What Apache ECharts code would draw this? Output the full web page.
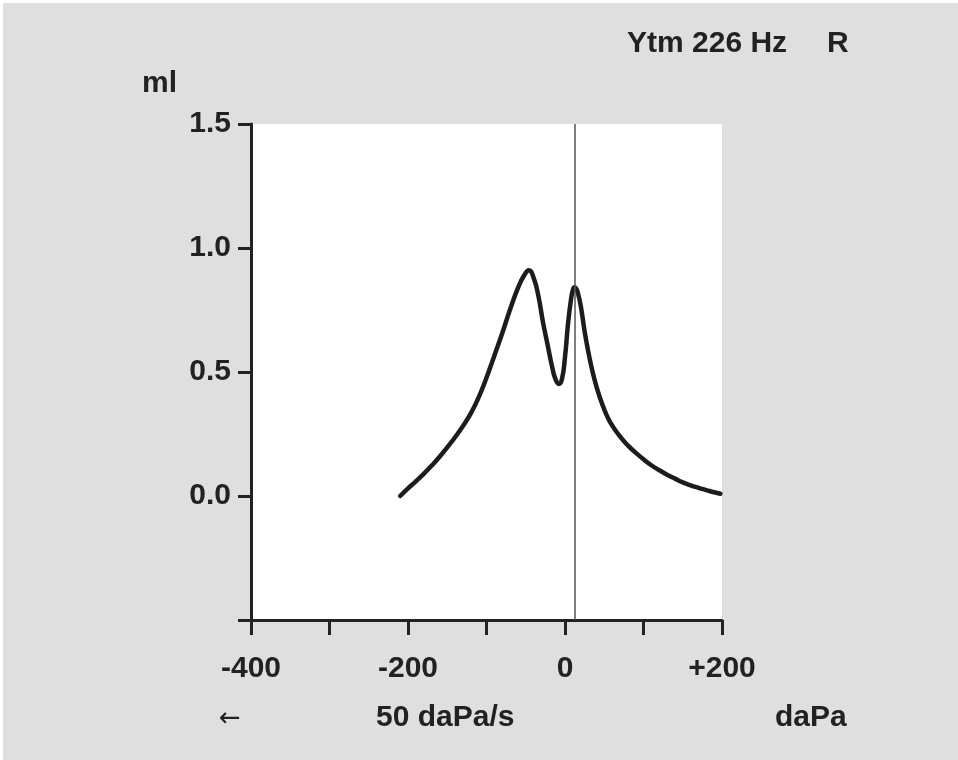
<!DOCTYPE html>
<html>
<head>
<meta charset="utf-8">
<script src="https://cdn.jsdelivr.net/npm/echarts@6/dist/echarts.min.js"></script>
<style>
html,body{margin:0;padding:0;background:#ffffff;}
#chart{position:absolute;left:3px;top:3px;width:955px;height:757px;}
</style>
</head>
<body>
<div id="chart"></div>
<script>
// Pressure (daPa) and compliance (ml)
var pressure = [-210,-200,-190,-180,-170,-160,-150,-140,-130,-120,-110,-100,-90,-80,-70,-60,-52,-46,-40,-34,-28,-22,-16,-12,-8,-4,0,4,8,10,12,14,16,20,25,30,35,40,45,50,55,60,70,80,90,100,110,120,130,140,150,160,170,180,190,198];
var compliance = [0.0,0.031,0.059,0.089,0.122,0.157,0.196,0.237,0.282,0.333,0.398,0.477,0.566,0.656,0.752,0.838,0.89,0.91,0.88,0.808,0.70,0.607,0.515,0.47,0.452,0.47,0.56,0.70,0.80,0.83,0.842,0.838,0.823,0.768,0.664,0.576,0.503,0.442,0.392,0.349,0.313,0.285,0.24,0.204,0.175,0.148,0.124,0.104,0.086,0.070,0.055,0.043,0.033,0.024,0.015,0.009];
var peakPressure = 12;
var xTickLabels = {'-400':'-400','-200':'-200','0':'0','200':'+200'};
var yTickLabels = {'0':'0.0','0.5':'0.5','1':'1.0','1.5':'1.5'};
var titleText = 'Ytm 226 Hz';
var earText = 'R';
var yUnit = 'ml';
var xUnit = 'daPa';
var speedText = '50 daPa/s';
var arrowText = '\u2190';

var chart = echarts.init(document.getElementById('chart'), null, {renderer:'canvas'});
var dark = '#222222';
var font = 'bold 30px "Liberation Sans", Arial, sans-serif';
var data = pressure.map(function(p,i){return [p, compliance[i]];});

chart.setOption({
  backgroundColor: '#dfdfdf',
  animation: false,
  grid: {left:248, top:121, width:471, height:496, show:true, backgroundColor:'#ffffff', borderWidth:0, containLabel:false},
  xAxis: {
    type:'value', min:-400, max:200, interval:100,
    axisLine:{show:true, onZero:false, lineStyle:{color:dark, width:3}},
    axisTick:{show:true, length:15, lineStyle:{color:dark, width:3}},
    splitLine:{show:false},
    axisLabel:{show:true, margin:34, color:dark, fontSize:30, fontWeight:'bold', fontFamily:'"Liberation Sans", Arial, sans-serif',
      formatter:function(v){ var k=String(v); return xTickLabels.hasOwnProperty(k)?xTickLabels[k]:''; }}
  },
  yAxis: {
    type:'value', min:-0.5, max:1.5, interval:0.5,
    axisLine:{show:true, onZero:false, lineStyle:{color:dark, width:3}},
    axisTick:{show:true, length:13, lineStyle:{color:dark, width:3}},
    splitLine:{show:false},
    axisLabel:{show:true, margin:20, color:dark, fontSize:30, fontWeight:'bold', fontFamily:'"Liberation Sans", Arial, sans-serif',
      formatter:function(v){ var k=String(Math.round(v*10)/10); return yTickLabels.hasOwnProperty(k)?yTickLabels[k]:''; }}
  },
  series: [{
    type:'line', data:data, smooth:0.5, showSymbol:false, symbol:'none',
    lineStyle:{color:'#1c1c1c', width:4.5, cap:'round', join:'round'},
    markLine:{silent:true, symbol:['none','none'], label:{show:false},
      lineStyle:{color:'#555555', width:1.5, type:'solid'},
      data:[{xAxis:peakPressure}]}
  }],
  graphic: [
    {type:'text', left:139, top:66, style:{text:yUnit, font:font, fill:dark}},
    {type:'text', left:624, top:26, style:{text:titleText, font:font, fill:dark}},
    {type:'text', left:824, top:26, style:{text:earText, font:font, fill:dark}},
    {type:'text', left:216, top:703, style:{text:arrowText, font:'26px "DejaVu Sans", sans-serif', fill:dark}},
    {type:'text', left:373, top:700, style:{text:speedText, font:font, fill:dark}},
    {type:'text', left:772, top:700, style:{text:xUnit, font:font, fill:dark}}
  ]
});
</script>
</body>
</html>
